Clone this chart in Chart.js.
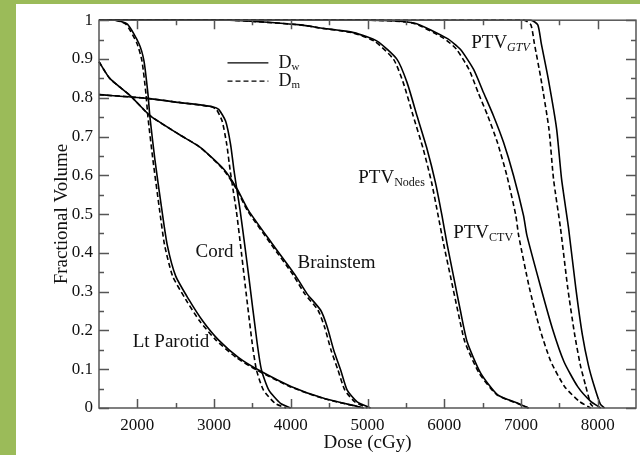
<!DOCTYPE html>
<html>
<head>
<meta charset="utf-8">
<script src="https://cdn.jsdelivr.net/npm/chart.js@4.4.1/dist/chart.umd.min.js"></script>
<style>
  html, body { margin: 0; padding: 0; background: #9bbb59; }
  #wrap { position: absolute; left: 16px; top: 4px; width: 624px; height: 451px; background: #fff; }
</style>
</head>
<body>
<div id="wrap"><canvas id="dvh" width="624" height="451"></canvas></div>
<script>
// Axis ticks
const xTicks = [2000, 3000, 4000, 5000, 6000, 7000, 8000];
const xMinorTicks = [2500, 3500, 4500, 5500, 6500, 7500];
const yTicks = [0, 0.1, 0.2, 0.3, 0.4, 0.5, 0.6, 0.7, 0.8, 0.9, 1];
const yMinorTicks = [0.05, 0.15, 0.25, 0.35, 0.45, 0.55, 0.65, 0.75, 0.85, 0.95];

// Lt Parotid (fractional volume vs dose, Dw and Dm)
const parotidVol   = [1, 1, 0.99, 0.94, 0.895, 0.81, 0.75, 0.64, 0.51, 0.42, 0.34, 0.28, 0.225, 0.175, 0.13, 0.098, 0.055, 0.025, 0.004, 0];
const parotidDoseW = [1500, 1717, 1870, 2020, 2086, 2138, 2164, 2229, 2320, 2390, 2500, 2670, 2850, 3060, 3320, 3580, 4010, 4430, 4870, 4950];
const parotidDoseM = [1500, 1705, 1850, 1995, 2060, 2112, 2138, 2203, 2290, 2355, 2460, 2630, 2810, 3025, 3290, 3555, 3990, 4415, 4860, 4950];

// Cord
const cordVol   = [0.808, 0.799, 0.788, 0.777, 0.770, 0.740, 0.680, 0.612, 0.560, 0.509, 0.420, 0.338, 0.167, 0.098, 0.046, 0.012, 0];
const cordDoseW = [1500, 2100, 2540, 2980, 3060, 3150, 3215, 3260, 3300, 3340, 3400, 3453, 3562, 3618, 3714, 3866, 4000];
const cordDoseM = [1500, 2100, 2540, 2960, 3030, 3105, 3165, 3210, 3250, 3290, 3345, 3393, 3497, 3553, 3644, 3796, 3940];

// Brainstem
const brainstemVol   = [0.893, 0.850, 0.805, 0.753, 0.706, 0.672, 0.615, 0.565, 0.509, 0.423, 0.342, 0.295, 0.252, 0.209, 0.149, 0.098, 0.046, 0.016, 0];
const brainstemDoseW = [1500, 1640, 1910, 2170, 2540, 2820, 3130, 3300, 3450, 3760, 4060, 4210, 4390, 4475, 4560, 4650, 4735, 4865, 5040];
const brainstemDoseM = [1500, 1640, 1910, 2170, 2540, 2820, 3120, 3290, 3435, 3740, 4035, 4180, 4355, 4440, 4525, 4615, 4705, 4835, 5000];

// PTV Nodes
const nodesVol   = [1, 1, 0.988, 0.980, 0.968, 0.946, 0.899, 0.839, 0.753, 0.668, 0.582, 0.496, 0.423, 0.338, 0.252, 0.170, 0.090, 0.034, 0.012, 0];
const nodesDoseW = [1500, 3200, 4130, 4390, 4820, 5125, 5385, 5516, 5646, 5776, 5885, 5971, 6037, 6123, 6210, 6300, 6475, 6697, 6960, 7100];
const nodesDoseM = [1500, 3200, 4120, 4375, 4795, 5090, 5340, 5466, 5596, 5726, 5835, 5921, 5992, 6083, 6175, 6270, 6455, 6687, 6950, 7100];

// PTV CTV
const ctvVol   = [1, 1, 0.993, 0.953, 0.925, 0.873, 0.813, 0.753, 0.685, 0.599, 0.496, 0.445, 0.310, 0.205, 0.120, 0.055, 0.017, 0];
const ctvDoseW = [1500, 5000, 5605, 6037, 6210, 6383, 6513, 6643, 6773, 6904, 7034, 7078, 7260, 7410, 7560, 7740, 7910, 8040];
const ctvDoseM = [1500, 4980, 5585, 5997, 6160, 6323, 6443, 6568, 6693, 6817, 6934, 6970, 7110, 7245, 7390, 7570, 7760, 7910];

// PTV GTV
const gtvVol   = [1, 1, 0.988, 0.94, 0.85, 0.72, 0.59, 0.465, 0.31, 0.19, 0.11, 0.06, 0.01, 0];
const gtvDoseW = [1500, 7130, 7220, 7265, 7355, 7465, 7530, 7620, 7715, 7800, 7880, 7950, 8035, 8090];
const gtvDoseM = [1500, 7040, 7130, 7175, 7260, 7365, 7425, 7515, 7610, 7700, 7775, 7840, 7910, 7960];

const serif = "'Liberation Serif', 'DejaVu Serif', serif";

function curve(dose, vol, dashed) {
    return {
        data: dose.map((d, i) => ({ x: d, y: vol[i] })),
        showLine: true,
        borderColor: '#000',
        borderWidth: 1.6,
        borderDash: dashed ? [5, 3] : [],
        pointRadius: 0,
        tension: 0.2,
        clip: 3
    };
}

// text labels drawn in data coordinates
const curveLabels = [
    { text: 'Cord', sub: '', dose: 2759, vol: 0.401 },
    { text: 'Brainstem', sub: '', dose: 4087, vol: 0.373 },
    { text: 'Lt Parotid', sub: '', dose: 1939, vol: 0.170 },
    { text: 'PTV', sub: 'Nodes', dose: 4880, vol: 0.594 },
    { text: 'PTV', sub: 'CTV', dose: 6117, vol: 0.452 },
    { text: 'PTV', sub: 'GTV', dose: 6352, vol: 0.941, italic: true }
];

const overlay = {
    id: 'overlay',
    afterDatasetsDraw(chart) {
        const { ctx, chartArea: a, scales: { x, y } } = chart;
        ctx.save();

        // frame + inward ticks on all four sides
        ctx.strokeStyle = '#555';
        ctx.lineWidth = 1.5;
        ctx.strokeRect(a.left, a.top, a.right - a.left, a.bottom - a.top);
        ctx.beginPath();
        const xt = (vals, len) => vals.forEach(v => {
            const px = Math.round(x.getPixelForValue(v)) + 0.5;
            ctx.moveTo(px, a.bottom); ctx.lineTo(px, a.bottom - len);
            ctx.moveTo(px, a.top); ctx.lineTo(px, a.top + len);
        });
        const yt = (vals, len) => vals.forEach(v => {
            const py = Math.round(y.getPixelForValue(v)) + 0.5;
            ctx.moveTo(a.left, py); ctx.lineTo(a.left + len, py);
            ctx.moveTo(a.right, py); ctx.lineTo(a.right - len, py);
        });
        xt(xTicks, 9); xt(xMinorTicks, 5);
        yt(yTicks, 10); yt(yMinorTicks, 5);
        ctx.stroke();

        // curve labels
        ctx.fillStyle = '#111';
        ctx.textBaseline = 'middle';
        ctx.textAlign = 'left';
        curveLabels.forEach(l => {
            const px = x.getPixelForValue(l.dose);
            const py = y.getPixelForValue(l.vol);
            ctx.font = '19px ' + serif;
            ctx.fillText(l.text, px, py);
            if (l.sub) {
                const w = ctx.measureText(l.text).width;
                ctx.font = (l.italic ? 'italic ' : '') + '12px ' + serif;
                ctx.fillText(l.sub, px + w, py + 5);
            }
        });

        // legend: Dw solid, Dm dashed
        const lx1 = x.getPixelForValue(3175), lx2 = x.getPixelForValue(3708);
        const tx = x.getPixelForValue(3840);
        [[0.890, [], 'w'], [0.843, [5, 3], 'm']].forEach(([v, dash, sub]) => {
            const py = y.getPixelForValue(v);
            ctx.strokeStyle = '#000';
            ctx.lineWidth = 1.2;
            ctx.setLineDash(dash);
            ctx.beginPath();
            ctx.moveTo(lx1, py); ctx.lineTo(lx2, py);
            ctx.stroke();
            ctx.font = '18px ' + serif;
            ctx.fillText('D', tx, py);
            const w = ctx.measureText('D').width;
            ctx.font = '11px ' + serif;
            ctx.fillText(sub, tx + w, py + 4);
        });
        ctx.restore();
    }
};

new Chart(document.getElementById('dvh'), {
    type: 'scatter',
    data: {
        datasets: [
            curve(parotidDoseW, parotidVol, false), curve(parotidDoseM, parotidVol, true),
            curve(cordDoseW, cordVol, false), curve(cordDoseM, cordVol, true),
            curve(brainstemDoseW, brainstemVol, false), curve(brainstemDoseM, brainstemVol, true),
            curve(nodesDoseW, nodesVol, false), curve(nodesDoseM, nodesVol, true),
            curve(ctvDoseW, ctvVol, false), curve(ctvDoseM, ctvVol, true),
            curve(gtvDoseW, gtvVol, false), curve(gtvDoseM, gtvVol, true)
        ]
    },
    options: {
        responsive: false,
        animation: false,
        devicePixelRatio: 1,
        layout: { padding: { top: 15, right: 4, left: 0, bottom: 0 } },
        plugins: {
            legend: { display: false },
            tooltip: { enabled: false }
        },
        scales: {
            x: {
                type: 'linear',
                min: 1500,
                max: 8500,
                afterBuildTicks: s => { s.ticks = xTicks.map(v => ({ value: v })); },
                afterFit: s => { s.height = 47; },
                grid: { display: false, drawTicks: false },
                border: { display: false },
                ticks: {
                    padding: 7,
                    color: '#111',
                    font: { family: serif, size: 17 },
                    callback: v => String(v)
                },
                title: {
                    display: true,
                    text: 'Dose (cGy)',
                    color: '#111',
                    font: { family: serif, size: 19 },
                    padding: { top: 0, bottom: 1 }
                }
            },
            y: {
                min: 0,
                max: 1,
                afterBuildTicks: s => { s.ticks = yTicks.map(v => ({ value: v })); },
                afterFit: s => { s.width = 83; },
                grid: { display: false, drawTicks: false },
                border: { display: false },
                ticks: {
                    padding: 6,
                    color: '#111',
                    font: { family: serif, size: 17 },
                    callback: v => (v === 0 ? '0' : v === 1 ? '1' : v.toFixed(1))
                },
                title: {
                    display: true,
                    text: 'Fractional Volume',
                    color: '#111',
                    font: { family: serif, size: 19 },
                    padding: { top: 35, bottom: 0 }
                }
            }
        }
    },
    plugins: [overlay]
});
</script>
</body>
</html>
